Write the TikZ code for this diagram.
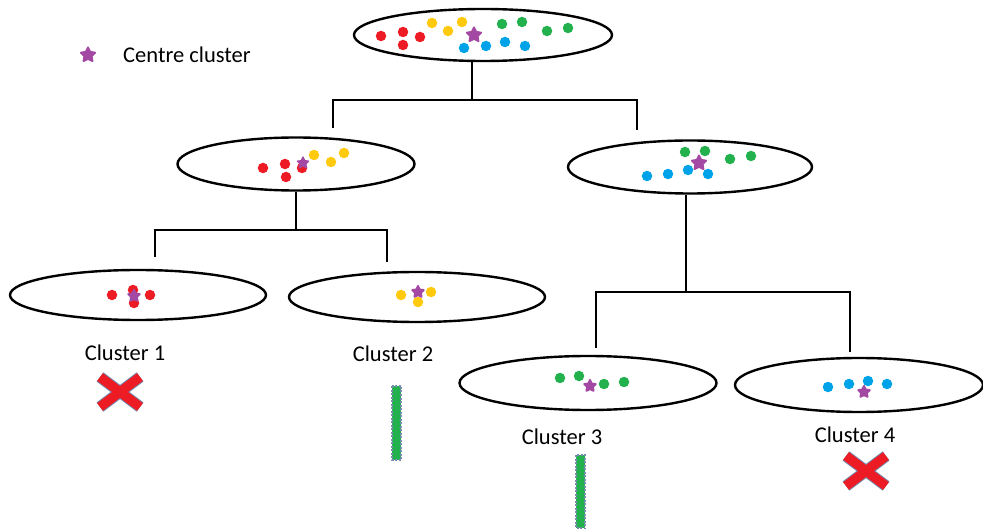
\documentclass[tikz,border=0pt]{standalone}
\usepackage{fontspec}
\setmainfont{Carlito}
\usetikzlibrary{shapes.geometric}
\definecolor{cred}{RGB}{237,28,36}
\definecolor{cyel}{RGB}{255,201,14}
\definecolor{cgrn}{RGB}{34,177,76}
\definecolor{cblu}{RGB}{0,162,232}
\definecolor{cpur}{RGB}{163,73,164}
\definecolor{cedge}{RGB}{120,140,175}
\tikzset{
  ell/.style={ellipse, draw=black, line width=2.4pt, inner sep=0pt},
  conn/.style={draw=black, line width=2pt},
  dotr/.style={circle, fill=cred, inner sep=0pt, minimum size=10.5pt},
  doty/.style={circle, fill=cyel, inner sep=0pt, minimum size=10.5pt},
  dotg/.style={circle, fill=cgrn, inner sep=0pt, minimum size=10.5pt},
  dotb/.style={circle, fill=cblu, inner sep=0pt, minimum size=10.5pt},
  ctr/.style={star, star points=5, star point ratio=2.0, fill=cpur, draw=cpur, line join=round, line width=2pt, inner sep=0pt, minimum size=15pt},
  lbl/.style={font=\fontsize{22.5}{26}\selectfont, inner sep=0pt},
}
\begin{document}
\begin{tikzpicture}[x=1pt,y=-1pt]
\useasboundingbox (0,0) rectangle (983,529);
% ellipses
\node[ell, minimum width=258, minimum height=52] (top) at (483,35) {};
\node[ell, minimum width=237, minimum height=53] (L) at (296,164) {};
\node[ell, minimum width=244, minimum height=53] (R) at (690,167) {};
\node[ell, minimum width=256, minimum height=50] (C1) at (138,295) {};
\node[ell, minimum width=256, minimum height=50] (C2) at (417,297) {};
\node[ell, minimum width=257, minimum height=54] (C3) at (588,383) {};
\node[ell, minimum width=248, minimum height=54] (C4) at (859,385) {};
% tree connectors
\coordinate (j0) at (472,100);
\coordinate (j0l) at (333,100);
\coordinate (j0r) at (637,100);
\coordinate (e0l) at (333,128);
\coordinate (e0r) at (637,130);
\draw[conn] (j0 |- top.south) -- (j0);
\draw[conn] (e0l) -- (j0l) -- (j0r) -- (e0r);
\coordinate (j1) at (296,230);
\coordinate (j1l) at (155,230);
\coordinate (j1r) at (387,230);
\coordinate (e1l) at (155,257);
\coordinate (e1r) at (387,262);
\draw[conn] (L.south) -- (j1);
\draw[conn] (e1l) -- (j1l) -- (j1r) -- (e1r);
\coordinate (j2) at (686,292);
\coordinate (j2l) at (596,292);
\coordinate (j2r) at (850,292);
\coordinate (e2l) at (596,348);
\coordinate (e2r) at (850,352);
\draw[conn] (j2 |- R.south) -- (j2);
\draw[conn] (e2l) -- (j2l) -- (j2r) -- (e2r);
% top dots
\foreach \p in {(381,36),(403,32),(420,37),(403,45)} \node[dotr] at \p {};
\foreach \p in {(432,23),(448,31),(462,22)} \node[doty] at \p {};
\foreach \p in {(502,24),(522,22),(547,31),(568,28)} \node[dotg] at \p {};
\foreach \p in {(464,48),(486,46),(505,42),(525,46)} \node[dotb] at \p {};
\node[ctr] at (474,35) {};
% left dots
\foreach \p in {(263,168),(285,164),(286,177),(302,168)} \node[dotr] at \p {};
\foreach \p in {(314,155),(331,162),(344,153)} \node[doty] at \p {};
\node[ctr, minimum size=12pt, line width=1.2pt] at (303,163) {};
% right dots
\foreach \p in {(685,152),(705,151),(730,159),(751,156)} \node[dotg] at \p {};
\foreach \p in {(647,176),(668,174),(688,170),(708,174)} \node[dotb] at \p {};
\node[ctr] at (699,163) {};
% cluster 1
\foreach \p in {(112,295),(133,290),(150,295),(134,303)} \node[dotr] at \p {};
\node[ctr, minimum size=12pt] at (134,296) {};
% cluster 2
\foreach \p in {(401,295),(431,292),(418,302)} \node[doty] at \p {};
\node[ctr, minimum size=12pt] at (418,292) {};
% cluster 3
\foreach \p in {(560,378),(579,376),(604,384),(624,382)} \node[dotg] at \p {};
\node[ctr, minimum size=12pt] at (590,386) {};
% cluster 4
\foreach \p in {(828,387),(849,384),(868,381),(887,384)} \node[dotb] at \p {};
\node[ctr, minimum size=12pt] at (864,392) {};
% legend
\node[ctr] (legstar) at (88,55) {};
\node[lbl, anchor=west] (legtxt) at (123,55) {Centre cluster};
% labels
\node[lbl] (l1) at (125,353) {Cluster 1};
\node[lbl] (l2) at (393,354) {Cluster 2};
\node[lbl] (l3) at (562,437) {Cluster 3};
\node[lbl] (l4) at (855,435) {Cluster 4};
% crosses
\foreach \cx/\cy in {120/392, 866/471}{
  \draw[cedge, line width=11.5pt] (\cx-20,\cy-15) -- (\cx+20,\cy+15) (\cx-20,\cy+15) -- (\cx+20,\cy-15);
  \draw[cred, line width=9.5pt] (\cx-20,\cy-15) -- (\cx+20,\cy+15) (\cx-20,\cy+15) -- (\cx+20,\cy-15);
}
% green bars
\draw[cedge, dashed, dash pattern=on 2pt off 1.5pt, line width=1.2pt, fill=cgrn] (392,386) rectangle (401,460);
\draw[cedge, dashed, dash pattern=on 2pt off 1.5pt, line width=1.2pt, fill=cgrn] (576,455) rectangle (585,528);
\end{tikzpicture}
\end{document}
